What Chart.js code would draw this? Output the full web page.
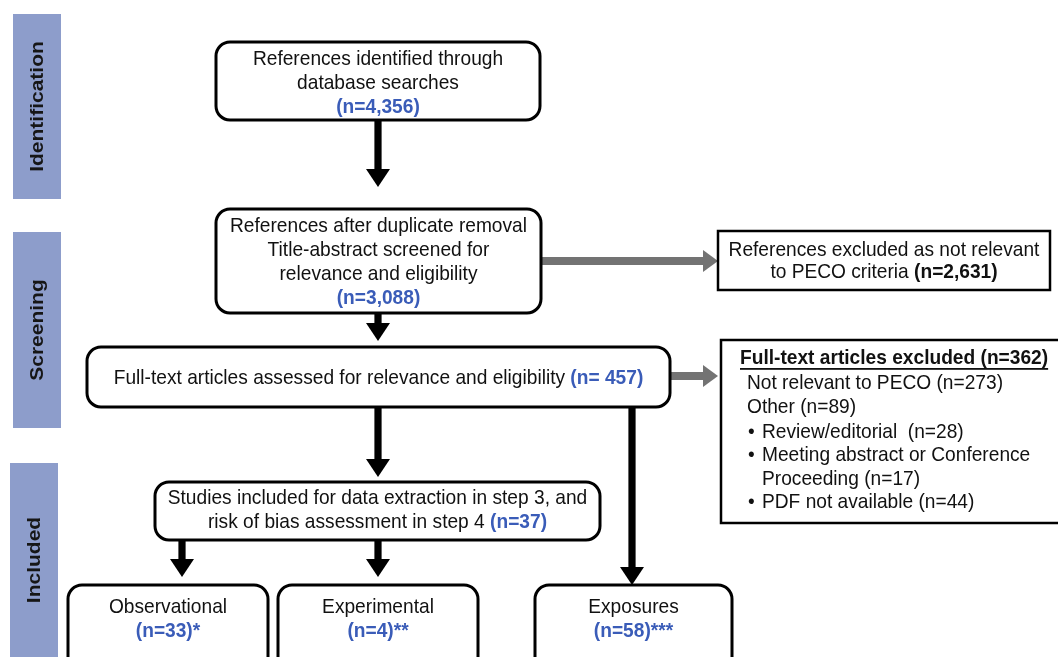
<!DOCTYPE html>
<html>
<head>
<meta charset="utf-8">
<script src="https://cdn.jsdelivr.net/npm/chart.js@4"></script>
<style>
html,body{margin:0;padding:0;background:#fff;}
#wrap{width:1058px;height:657px;}
</style>
</head>
<body>
<div id="wrap"><canvas id="c" width="1058" height="657"></canvas></div>
<script>
// ---------------- DATA ----------------
const stages = ['Identification', 'Screening', 'Included'];
const stepLabels = [
  ['References identified through', 'database searches'],
  ['References after duplicate removal', 'Title-abstract screened for', 'relevance and eligibility'],
  ['Full-text articles assessed for relevance and eligibility'],
  ['Studies included for data extraction in step 3, and', 'risk of bias assessment in step 4'],
  ['Observational'],
  ['Experimental'],
  ['Exposures']
];
const stepCounts = ['(n=4,356)', '(n=3,088)', '(n= 457)', '(n=37)', '(n=33)*', '(n=4)**', '(n=58)***'];
const excludedLabels = ['References excluded as not relevant', 'to PECO criteria'];
const excludedCount = '(n=2,631)';
const fullTextExcludedTitle = 'Full-text articles excluded (n=362)';
const exclusionReasons = ['Not relevant to PECO (n=273)', 'Other (n=89)'];
const otherReasons = [['Review/editorial  (n=28)'], ['Meeting abstract or Conference', 'Proceeding (n=17)'], ['PDF not available (n=44)']];

// ---------------- LAYOUT (scale units) ----------------
const FONT = '"Liberation Sans", Arial, sans-serif';
const FS = 21, LH = 24, SX = 0.912;
const BLUE = '#3a5cb8', BAR = '#8d9dcb';
const stageBands = [[13, 61, 14, 199], [13, 61, 232, 428], [10, 58, 463, 660]];
const stepBoxes = [
  {x1: 216, x2: 540, y1: 42, y2: 120, cy: 83, inline: false},
  {x1: 216, x2: 541, y1: 209, y2: 313, cy: 262, inline: false},
  {x1: 87, x2: 670, y1: 347, y2: 407, cy: 378, inline: true},
  {x1: 155, x2: 600, y1: 482, y2: 540, cy: 510, inline: true},
  {x1: 68, x2: 268, y1: 585, y2: 680, cy: 619, inline: false},
  {x1: 278, x2: 478, y1: 585, y2: 680, cy: 619, inline: false},
  {x1: 535, x2: 732, y1: 585, y2: 680, cy: 619, inline: false}
];
const excludedBox = {x1: 718, x2: 1050, y1: 231, y2: 290, cy: 261};
const ftBox = {x1: 721, x2: 1062, y1: 340, y2: 523};
const blackArrows = [[378, 120, 187], [378, 313, 341], [378, 407, 477], [632, 407, 585], [182, 540, 577], [378, 540, 577]];
const grayArrows = [[541, 718, 261], [670, 718, 376]];

// ---------------- DRAWING PLUGIN ----------------
function rr(ctx, x1, y1, x2, y2, r) {
  ctx.beginPath();
  ctx.moveTo(x1 + r, y1);
  ctx.lineTo(x2 - r, y1);
  ctx.arcTo(x2, y1, x2, y1 + r, r);
  ctx.lineTo(x2, y2 - r);
  ctx.arcTo(x2, y2, x2 - r, y2, r);
  ctx.lineTo(x1 + r, y2);
  ctx.arcTo(x1, y2, x1, y2 - r, r);
  ctx.lineTo(x1, y1 + r);
  ctx.arcTo(x1, y1, x1 + r, y1, r);
  ctx.closePath();
}
function richLine(ctx, segs, x, y, align) {
  let total = 0;
  segs.forEach(s => { ctx.font = s.font; s.w = ctx.measureText(s.text).width * SX; total += s.w; });
  let sx = align === 'left' ? x : x - total / 2;
  ctx.textAlign = 'left';
  ctx.textBaseline = 'middle';
  segs.forEach(s => {
    ctx.save();
    ctx.translate(sx, y);
    ctx.scale(SX, 1);
    ctx.font = s.font; ctx.fillStyle = s.color; ctx.fillText(s.text, 0, 0);
    ctx.restore();
    sx += s.w;
  });
  return total;
}
const N = (t, c) => ({text: t, font: `${FS}px ${FONT}`, color: c || '#111'});
const B = (t, c) => ({text: t, font: `bold ${FS}px ${FONT}`, color: c || BLUE});

const flowPlugin = {
  id: 'flow',
  afterDraw(chart) {
    const ctx = chart.ctx, xs = chart.scales.x, ys = chart.scales.y;
    const X = v => xs.getPixelForValue(v), Y = v => ys.getPixelForValue(v);
    ctx.save();
    stages.forEach((s, i) => {
      const [a, b, c, d] = stageBands[i];
      ctx.fillStyle = BAR;
      ctx.fillRect(X(a), Y(c), X(b) - X(a), Y(d) - Y(c));
      ctx.save();
      ctx.translate((X(a) + X(b)) / 2 + 1, (Y(c) + Y(Math.min(d, 657))) / 2);
      ctx.rotate(-Math.PI / 2);
      ctx.scale(1, SX);
      ctx.font = `bold 21px ${FONT}`;
      ctx.fillStyle = '#161616';
      ctx.textAlign = 'center';
      ctx.textBaseline = 'middle';
      ctx.fillText(s, 0, 0);
      ctx.restore();
    });
    const arrowV = (x, y1, y2) => {
      ctx.fillStyle = '#000';
      const hl = 18, hw = 12, sw = 3.6;
      ctx.fillRect(X(x) - sw, Y(y1), sw * 2, Y(y2) - Y(y1) - hl + 1);
      ctx.beginPath();
      ctx.moveTo(X(x) - hw, Y(y2) - hl);
      ctx.lineTo(X(x) + hw, Y(y2) - hl);
      ctx.lineTo(X(x), Y(y2));
      ctx.closePath();
      ctx.fill();
    };
    const arrowH = (x1, x2, y) => {
      ctx.fillStyle = '#737373';
      const hl = 15, hw = 11, sw = 4;
      ctx.fillRect(X(x1), Y(y) - sw, X(x2) - X(x1) - hl + 1, sw * 2);
      ctx.beginPath();
      ctx.moveTo(X(x2) - hl, Y(y) - hw);
      ctx.lineTo(X(x2) - hl, Y(y) + hw);
      ctx.lineTo(X(x2), Y(y));
      ctx.closePath();
      ctx.fill();
    };
    blackArrows.forEach(a => arrowV(a[0], a[1], a[2]));
    grayArrows.forEach(a => arrowH(a[0], a[1], a[2]));
    stepBoxes.forEach((bx, i) => {
      rr(ctx, X(bx.x1), Y(bx.y1), X(bx.x2), Y(bx.y2), 14);
      ctx.fillStyle = '#fff'; ctx.fill();
      ctx.lineWidth = 3; ctx.strokeStyle = '#000'; ctx.stroke();
      const lines = stepLabels[i].map(t => [N(t)]);
      if (bx.inline) lines[lines.length - 1].push(N(' '), B(stepCounts[i]));
      else lines.push([B(stepCounts[i])]);
      const cx = (X(bx.x1) + X(bx.x2)) / 2;
      const y0 = Y(bx.cy) - (lines.length - 1) * LH / 2;
      lines.forEach((l, k) => richLine(ctx, l, cx, y0 + k * LH, 'center'));
    });
    {
      const bx = excludedBox;
      ctx.fillStyle = '#fff';
      ctx.fillRect(X(bx.x1), Y(bx.y1), X(bx.x2) - X(bx.x1), Y(bx.y2) - Y(bx.y1));
      ctx.lineWidth = 2.5; ctx.strokeStyle = '#000';
      ctx.strokeRect(X(bx.x1), Y(bx.y1), X(bx.x2) - X(bx.x1), Y(bx.y2) - Y(bx.y1));
      const cx = (X(bx.x1) + X(bx.x2)) / 2;
      richLine(ctx, [N(excludedLabels[0])], cx, Y(bx.cy) - LH / 2 + 1, 'center');
      richLine(ctx, [N(excludedLabels[1] + ' '), B(excludedCount, '#111')], cx, Y(bx.cy) + LH / 2 - 1, 'center');
    }
    {
      const bx = ftBox;
      ctx.fillStyle = '#fff';
      ctx.fillRect(X(bx.x1), Y(bx.y1), X(bx.x2) - X(bx.x1), Y(bx.y2) - Y(bx.y1));
      ctx.lineWidth = 2.5; ctx.strokeStyle = '#000';
      ctx.strokeRect(X(bx.x1), Y(bx.y1), X(bx.x2) - X(bx.x1), Y(bx.y2) - Y(bx.y1));
      const tw = richLine(ctx, [B(fullTextExcludedTitle, '#111')], X(740), Y(358), 'left');
      ctx.fillStyle = '#111';
      ctx.fillRect(X(740), Y(358) + 10, tw, 1.8);
      let y = 383;
      exclusionReasons.forEach(t => { richLine(ctx, [N(t)], X(747), Y(y), 'left'); y += 24.5; });
      otherReasons.forEach(item => {
        item.forEach((t, k) => {
          if (k === 0) richLine(ctx, [N('•')], X(748), Y(y), 'left');
          richLine(ctx, [N(t)], X(762), Y(y), 'left');
          y += 23.5;
        });
      });
    }
    ctx.restore();
  }
};

new Chart(document.getElementById('c'), {
  type: 'scatter',
  data: {datasets: [{data: [], pointRadius: 0}]},
  options: {
    responsive: false,
    animation: false,
    devicePixelRatio: 1,
    layout: {padding: 0},
    plugins: {legend: {display: false}, tooltip: {enabled: false}},
    scales: {
      x: {type: 'linear', min: 0, max: 1058, display: false},
      y: {type: 'linear', min: 0, max: 657, reverse: true, display: false}
    }
  },
  plugins: [flowPlugin]
});
</script>
</body>
</html>
